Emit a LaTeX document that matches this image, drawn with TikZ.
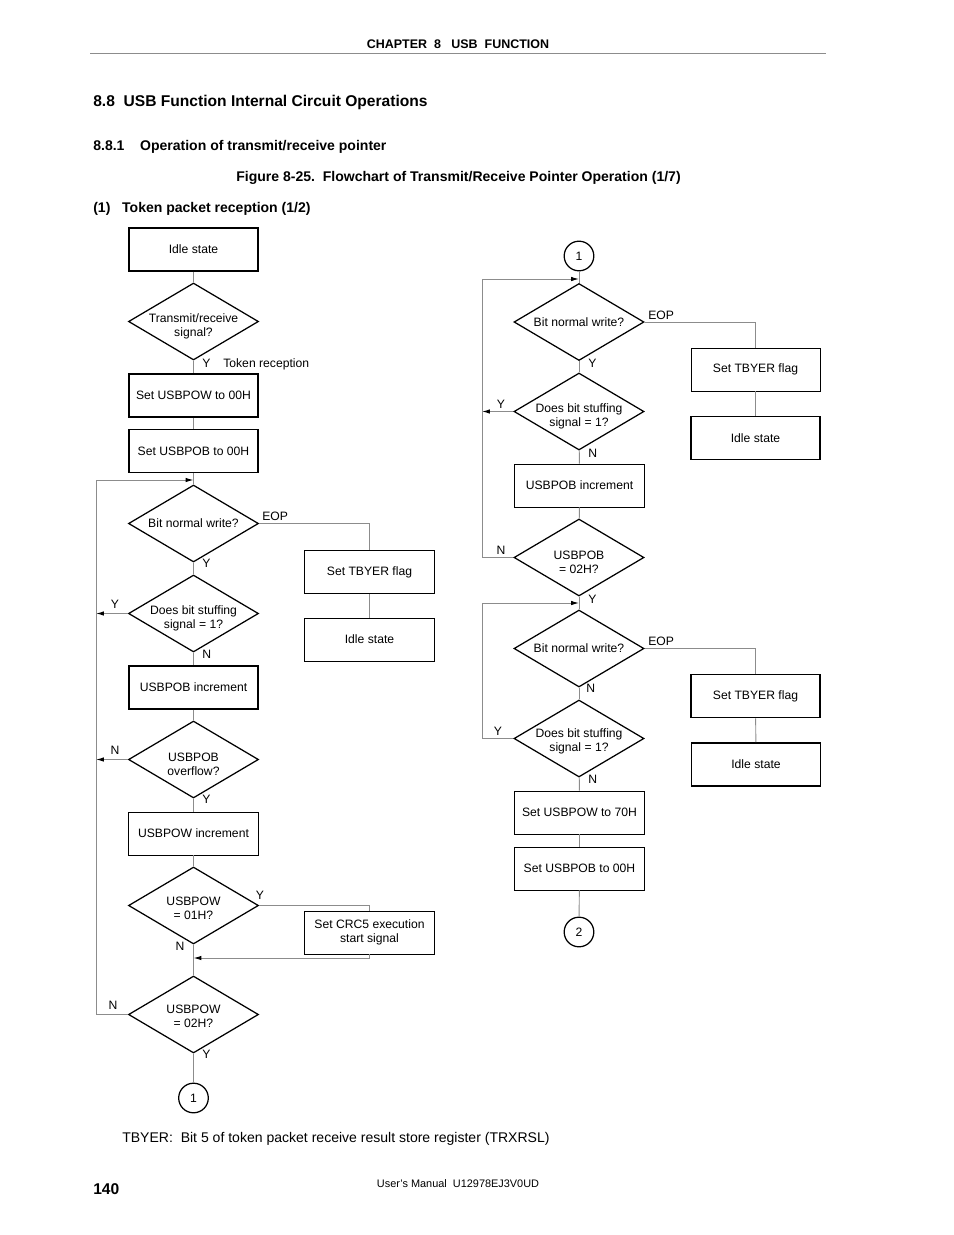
\documentclass[tikz,border=0pt]{standalone}
\usepackage{fontspec}
\setmainfont{Liberation Sans}
\usetikzlibrary{shapes.geometric,arrows.meta}

\newcommand{\proc}[4]{
\node[procbox] (#1) at (#2, #3) {#4};
}
\newcommand{\procb}[4]{
\node[procbox, line width=1pt] (#1) at (#2, #3) {#4};
}
\newcommand{\ask}[5][0]{
\node[askbox] (#2) at (#3, #4) {};
\node[asktext] (#2-t) at (#3, #4+#1) {#5};
}
\newcommand{\conn}[4]{
\node[connect] (#1) at (#2, #3) {#4};
}

\begin{document}
\begin{tikzpicture}[x=0.6415pt, y=-0.6415pt,
  every node/.style={font=\fontsize{7.8}{9}\selectfont},
  procbox/.style={draw, line width=0.6pt, minimum width=82.8pt, minimum height=27.6pt, inner sep=1pt, align=center},
  askbox/.style={draw, diamond, line width=0.8pt, minimum width=83.4pt, minimum height=49.4pt, inner sep=0pt, aspect=1.69},
  asktext/.style={inner sep=0pt, align=center},
  connect/.style={draw, circle, line width=0.8pt, minimum size=19pt, inner sep=0pt},
  lbl/.style={inner sep=0pt},
  flow/.style={draw=black!45, line width=0.6pt},
  tip/.style={flow, -{Latex[length=5pt, width=2.8pt, black]}}]
\useasboundingbox (0,0) rectangle (954,1235);

% page header and titles
\node[font=\fontsize{8}{9.6}\selectfont\bfseries] (chap) at (458,44) {CHAPTER\ \ 8\ \ \ USB\ \ FUNCTION};
\draw[black!45, line width=0.5pt] (90,53) -- (826,53);
\node[lbl, anchor=west, font=\fontsize{10}{12}\selectfont\bfseries] (sec) at (93,102) {8.8\ \ USB Function Internal Circuit Operations};
\node[lbl, anchor=west, font=\fontsize{9}{11}\selectfont\bfseries] (subsec) at (93,147) {8.8.1\ \ \ \ Operation of transmit/receive pointer};
\node[font=\fontsize{9}{11}\selectfont\bfseries] (fig) at (458.5,178) {Figure 8-25.\ \ Flowchart of Transmit/Receive Pointer Operation (1/7)};
\node[lbl, anchor=west, font=\fontsize{9}{11}\selectfont\bfseries] (item) at (93,209) {(1)\ \ \ Token packet reception (1/2)};

% left column
\procb{idle1}{193.5}{249.5}{Idle state}
\ask[5]{tr}{193.5}{321.5}{Transmit/receive\\signal?}
\procb{pow0}{193.5}{395.5}{Set USBPOW to 00H}
\procb{pob0}{193.5}{451}{Set USBPOB to 00H}
\ask{bnw1}{193.5}{523.5}{Bit normal write?}
\ask[4.5]{bs1}{193.5}{613.5}{Does bit stuffing\\signal = 1?}
\procb{pobinc}{193.5}{687.5}{USBPOB increment}
\ask[4.5]{ovf}{193.5}{759.5}{USBPOB\\overflow?}
\proc{powinc}{193.5}{833.5}{USBPOW increment}
\ask[3]{pow1}{193.5}{905.5}{USBPOW\\= 01H?}
\ask[2]{pow2}{193.5}{1014.5}{USBPOW\\= 02H?}
\conn{c1}{193.5}{1098}{1}
\proc{tby1}{369.5}{572}{Set TBYER flag}
\proc{idle2}{369.5}{639.5}{Idle state}
\proc{crc}{369.5}{932.5}{Set CRC5 execution\\start signal}

% right column
\conn{c1b}{579}{256}{1}
\ask{bnw2}{579}{322}{Bit normal write?}
\ask[5]{bs2}{579}{411.5}{Does bit stuffing\\signal = 1?}
\proc{pobinc2}{579.5}{485.5}{USBPOB increment}
\ask[4.5]{eq2}{579}{557.5}{USBPOB\\= 02H?}
\ask{bnw3}{579}{648.5}{Bit normal write?}
\ask[3]{bs3}{579}{738.5}{Does bit stuffing\\signal = 1?}
\proc{pow70}{579.5}{812.5}{Set USBPOW to 70H}
\proc{pob00}{579.5}{868.5}{Set USBPOB to 00H}
\conn{c2}{579}{932}{2}
\proc{tby2}{755.5}{369.5}{Set TBYER flag}
\procb{idle3}{755.5}{438}{Idle state}
\procb{tby3}{755.5}{696}{Set TBYER flag}
\procb{idle4}{756}{764.5}{Idle state}

% loop corners and joins
\coordinate (loopL) at (96,480);
\coordinate (joinL) at (193.5,480);
\coordinate (joinC) at (193.5,958);
\coordinate (loopR) at (482,279);
\coordinate (joinR) at (579,279);
\coordinate (loopR2) at (482,603);
\coordinate (joinR2) at (579,603);

% left connectors
\draw[flow] (idle1) -- (tr);
\draw[flow] (tr) -- (pow0);
\draw[flow] (pow0) -- (pob0);
\draw[flow] (pob0) -- (bnw1);
\draw[flow] (bnw1.east) -| (tby1.north);
\draw[flow] (tby1) -- (idle2);
\draw[flow] (bnw1) -- (bs1);
\draw[tip] (bs1.west) -- (bs1.west -| loopL);
\draw[flow] (bs1) -- (pobinc);
\draw[flow] (pobinc) -- (ovf);
\draw[tip] (ovf.west) -- (ovf.west -| loopL);
\draw[flow] (ovf) -- (powinc);
\draw[flow] (powinc) -- (pow1);
\draw[flow] (pow1.east) -| (crc.north);
\draw[tip] (crc.south) |- (joinC);
\draw[flow] (pow1) -- (pow2);
\draw[tip] (pow2.west) -| (loopL) -- (joinL);
\draw[flow] (pow2) -- (c1);

% right connectors
\draw[flow] (c1b) -- (bnw2);
\draw[tip] (loopR) -- (joinR);
\draw[flow] (bnw2.east) -| (tby2.north);
\draw[flow] (tby2) -- (idle3);
\draw[flow] (bnw2) -- (bs2);
\draw[tip] (bs2.west) -- (bs2.west -| loopR);
\draw[flow] (bs2) -- (pobinc2);
\draw[flow] (pobinc2) -- (eq2);
\draw[flow] (eq2.west) -| (loopR);
\draw[flow] (eq2) -- (bnw3);
\draw[tip] (loopR2) -- (joinR2);
\draw[flow] (bnw3.east) -| (tby3.north);
\draw[flow] (tby3) -- (idle4);
\draw[flow] (bnw3) -- (bs3);
\draw[flow] (bs3.west) -| (loopR2);
\draw[flow] (bs3) -- (pow70);
\draw[flow] (pow70) -- (pob00);
\draw[flow] (pob00) -- (c2);

% branch labels
\node[lbl, anchor=west] (ytr) at (202,363) {Y};
\node[lbl, anchor=west] (tok) at (223,364) {Token reception};
\node[lbl, anchor=west] (eop1) at (262,516) {EOP};
\node[lbl, anchor=west] (ybnw1) at (202,563) {Y};
\node[lbl] (ybs1) at (115,604) {Y};
\node[lbl, anchor=west] (nbs1) at (202,654) {N};
\node[lbl] (novf) at (115,750) {N};
\node[lbl, anchor=west] (yovf) at (202,799) {Y};
\node[lbl] (ypow1) at (260,895) {Y};
\node[lbl] (npow1) at (180,946) {N};
\node[lbl] (npow2) at (113,1005) {N};
\node[lbl, anchor=west] (ypow2) at (202,1054) {Y};

\node[lbl, anchor=west] (eop2) at (648,315) {EOP};
\node[lbl, anchor=west] (ybnw2) at (588,363) {Y};
\node[lbl] (ybs2) at (501,404) {Y};
\node[lbl, anchor=west] (nbs2) at (588,453) {N};
\node[lbl] (neq2) at (501,550) {N};
\node[lbl, anchor=west] (yeq2) at (588,599) {Y};
\node[lbl, anchor=west] (eop3) at (648,641) {EOP};
\node[lbl, anchor=west] (nbnw3) at (586,688) {N};
\node[lbl] (ybs3) at (498,731) {Y};
\node[lbl, anchor=west] (nbs3) at (588,779) {N};

% footnote and page footer
\node[lbl, anchor=west, font=\fontsize{9}{11}\selectfont] (note) at (122,1139) {TBYER:\ \ Bit 5 of token packet receive result store register (TRXRSL)};
\node[lbl, anchor=west, font=\fontsize{10}{12}\selectfont\bfseries] (page) at (93,1189) {140};
\node[font=\fontsize{7}{8.5}\selectfont] (man) at (458,1184) {User's Manual\ \ U12978EJ3V0UD};
\end{tikzpicture}
\end{document}
